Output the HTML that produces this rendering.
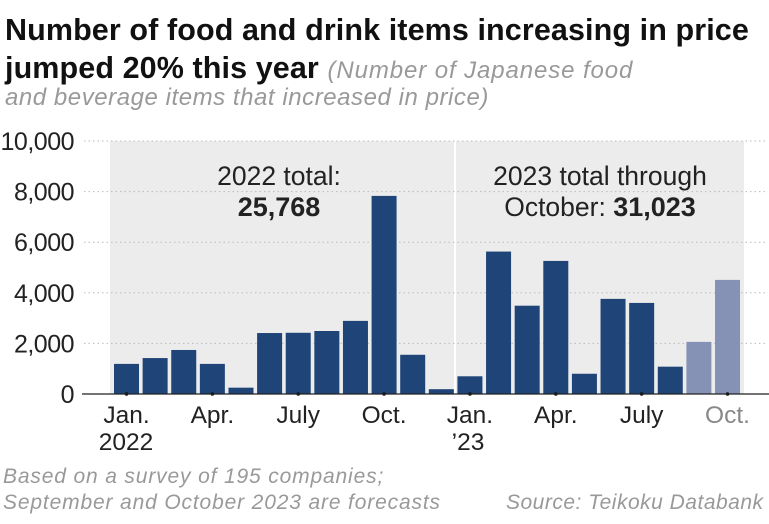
<!DOCTYPE html>
<html><head><meta charset="utf-8"><style>
body{margin:0;width:769px;height:524px;background:#fff;overflow:hidden;font-family:"Liberation Sans",sans-serif;}
.t{position:absolute;left:5px;top:11px;font-weight:bold;font-size:30.5px;line-height:38px;color:#111;white-space:nowrap;letter-spacing:0.1px}
.t i{font-weight:normal;font-size:24px;color:#999;letter-spacing:0.9px}
.sub{position:absolute;left:5px;top:84px;font-style:italic;font-size:24px;color:#999;letter-spacing:0.55px;white-space:nowrap}
.f{position:absolute;font-style:italic;font-size:21px;color:#999;line-height:26px;letter-spacing:0.85px;white-space:nowrap}
</style></head><body>
<div class="t">Number of food and drink items increasing in price<br>jumped 20% this year <i>(Number of Japanese food</i></div>
<div class="sub">and beverage items that increased in price)</div>
<svg id="c" width="769" height="524" style="position:absolute;left:0;top:0"></svg>
<div class="f" style="left:3px;top:464px">Based on a survey of 195 companies;<br>September and October 2023 are forecasts</div>
<div class="f" style="left:506px;top:490px;letter-spacing:0.5px">Source: Teikoku Databank</div>
<script>
const months=["Jan.","","","Apr.","","","July","","","Oct.","","","Jan.","","","Apr.","","","July","","","Oct."];
const values=[1190,1420,1740,1190,250,2410,2420,2490,2890,7830,1550,190,700,5630,3490,5260,800,3760,3600,1080,2060,4510];
const forecast=[0,0,0,0,0,0,0,0,0,0,0,0,0,0,0,0,0,0,0,0,1,1];
const yTicks=[0,2000,4000,6000,8000,10000];
const yTickLabels=["0","2,000","4,000","6,000","8,000","10,000"];
const NS="http://www.w3.org/2000/svg",svg=document.getElementById('c');
const y=v=>394-v*0.0253, x=i=>114+i*28.62;
function mk(t,a,txt){const e=document.createElementNS(NS,t);for(const k in a)e.setAttribute(k,a[k]);if(txt!=null)e.textContent=txt;svg.appendChild(e);return e;}
const p=mk('rect',{x:110,y:141,width:634,height:253,fill:'#ececec'});


const d=mk('line',{x1:455,y1:141,x2:455,y2:394,stroke:'#fff','stroke-width':2});


yTicks.forEach((v,i)=>{
 if(v>0){const g=mk('line',{x1:84,x2:766,y1:y(v),y2:y(v),stroke:'#bbb','stroke-dasharray':'1.5 3'});
 
 }
 const l=mk('text',{x:74,y:y(v)+9,'text-anchor':'end','font-size':25,fill:'#222','letter-spacing':'-0.5'},yTickLabels[i]);
 
 
});
values.forEach((v,i)=>{
 const r=mk('rect',{x:x(i),y:y(v),width:25,height:394-y(v),fill:forecast[i]?'#8592b6':'#1f4478'});
 
 
 if(months[i]){
  const c=mk('circle',{cx:x(i)+12.5,cy:394,r:1.8,fill:'#111'});
  
  
  const t=mk('text',{x:x(i)+12.5,y:423,'text-anchor':'middle','font-size':24.5,fill:forecast[i]?'#888':'#222'},months[i]);
  
  
 }
});
const b=mk('line',{x1:82,x2:769,y1:394,y2:394,stroke:'#222','stroke-width':1.2});


[[126,450,"2022"],[468,450,"’23"]].forEach(a=>{const t=mk('text',{x:a[0],y:a[1],'text-anchor':'middle','font-size':24.5,fill:'#222'},a[2]);

});
[[279,185,"2022 total:",'normal'],[279,216,"25,768",'bold'],[600,185,"2023 total through",'normal']].forEach(a=>{
 const t=mk('text',{x:a[0],y:a[1],'text-anchor':'middle','font-size':a[3]=='bold'?27:26.5,'font-weight':a[3],fill:'#222'},a[2]);
 
 
});
const t2=mk('text',{x:600,y:216,'text-anchor':'middle','font-size':26.5,fill:'#222'});


t2.innerHTML='October: <tspan font-weight="bold" font-size="27">31,023</tspan>';
</script>
</body></html>
